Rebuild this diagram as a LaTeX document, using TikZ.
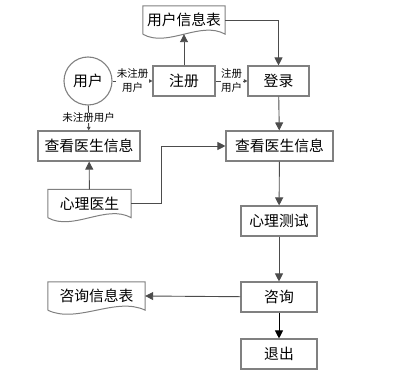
\documentclass[tikz,border=0pt]{standalone}
\usepackage{fontspec}
\setmainfont{Noto Sans CJK SC}
\usetikzlibrary{arrows.meta,calc}
\definecolor{boxgray}{rgb}{0.5,0.5,0.5}
\definecolor{linegray}{rgb}{0.3,0.3,0.3}
\newcommand{\docwave}[1]{%
  \draw[draw=boxgray,line width=1pt] (#1.south west) -- (#1.north west) -- (#1.north east) -- (#1.south east)
    .. controls ($(#1.south east)!0.3!(#1.south west)+(0,-14)$) and ($(#1.south east)!0.7!(#1.south west)+(0,14)$) .. (#1.south west);}
\begin{document}
\begin{tikzpicture}[x=1pt,y=-1pt,
  box/.style={draw=boxgray,line width=1.1pt,minimum height=30pt,inner sep=0pt,font=\fontsize{14.8}{16}\selectfont},
  docnode/.style={minimum height=28pt,inner sep=0pt,font=\fontsize{14.8}{16}\selectfont},
  lbl/.style={font=\fontsize{10.5}{14}\selectfont,align=center,fill=white,inner sep=0.5pt},
  arr/.style={draw=linegray,line width=0.9pt,-{Triangle[width=8pt,length=8pt]}},
  tinyarr/.style={draw=linegray,line width=0.9pt,-{Triangle[width=3.5pt,length=3.5pt]}}]
\useasboundingbox (0,0) rectangle (401,390);
\node[docnode,minimum width=82pt] (infotab) at (184,20) {用户信息表};
\docwave{infotab}
\node[box,circle,minimum size=48pt] (user) at (88,81) {用户};
\node[box,minimum width=62pt] (reg) at (184,81) {注册};
\node[box,minimum width=61pt] (login) at (278.5,81) {登录};
\node[box,minimum width=102pt] (viewl) at (89,146) {查看医生信息};
\node[box,minimum width=107pt] (viewr) at (279.5,146) {查看医生信息};
\node[docnode,minimum width=83pt] (doctor) at (89.5,203.5) {心理医生};
\docwave{doctor}
\node[box,minimum width=76pt] (test) at (279,221) {心理测试};
\node[box,minimum width=76pt] (consult) at (279,297) {咨询};
\node[docnode,minimum width=97pt] (consulttab) at (96.5,296) {咨询信息表};
\docwave{consulttab}
\node[box,minimum width=76pt] (quit) at (279,354) {退出};

\draw[tinyarr] (user) -- node[lbl] {未注册\\用户} (reg);
\draw[tinyarr] (reg) -- node[lbl] {注册\\用户} (login);
\draw[tinyarr] (user) -- node[lbl] {未注册用户} (viewl);
\draw[arr] (reg) -- (infotab);
\draw[arr] (infotab.east) -| (login.north);
\draw[arr] (doctor) -- (viewl);
\draw[arr] (doctor.east) -- ++(30,0) |- (viewr.west);
\draw[arr] (login) -- (viewr);
\draw[arr] (viewr) -- (test);
\draw[arr] (test) -- (consult);
\draw[arr] (consult) -- (consulttab.east);
\draw[arr,draw=black] (consult) -- (quit);
\end{tikzpicture}
\end{document}
